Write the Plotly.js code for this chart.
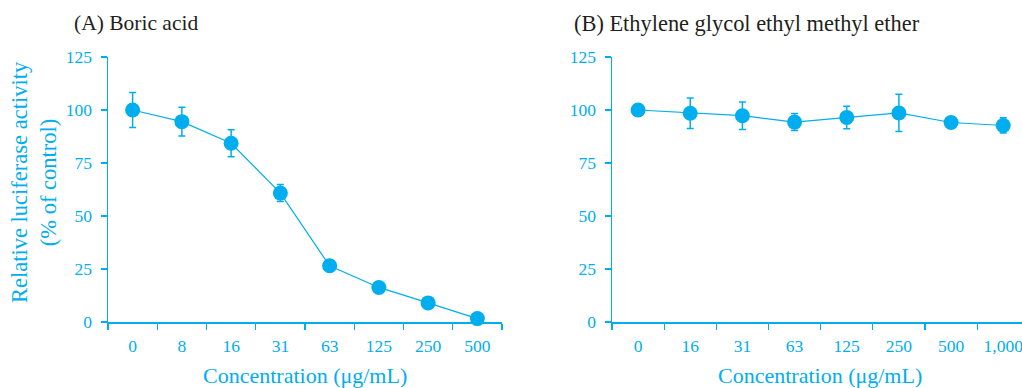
<!DOCTYPE html>
<html>
<head>
<meta charset="utf-8">
<script src="https://cdn.plot.ly/plotly-3.0.1.min.js"></script>
<style>html,body{margin:0;padding:0;background:#fff;}#chart{width:1022px;height:388px;}</style>
</head>
<body>
<div id="chart"></div>
<script>
// Panel A: Boric acid
var concA = ["0", "8", "16", "31", "63", "125", "250", "500"];
var valuesA = [100, 94.5, 84.3, 60.8, 26.5, 16.3, 9.0, 1.6];
var errorsA = [8.3, 6.8, 6.4, 4.0, 0, 0, 0, 0];
// Panel B: Ethylene glycol ethyl methyl ether
var concB = ["0", "16", "31", "63", "125", "250", "500", "1,000"];
var valuesB = [100, 98.5, 97.3, 94.3, 96.5, 98.6, 94.1, 92.7];
var errorsB = [2, 7.2, 6.5, 4.0, 5.3, 8.8, 2, 3.6];
var yTicks = [0, 25, 50, 75, 100, 125];

var cyan = "#00AEEF";
var serif = "Liberation Serif, Times New Roman, serif";

function trace(x, y, e, xa, ya) {
  return {
    type: "scatter", mode: "lines+markers", x: x, y: y,
    xaxis: xa, yaxis: ya, cliponaxis: false,
    line: {color: cyan, width: 1.2},
    marker: {color: cyan, size: 15},
    error_y: {type: "data", array: e, visible: true, color: cyan, thickness: 1.5, width: 3.5},
    showlegend: false, hoverinfo: "skip"
  };
}

function xaxis(domain, range, anchor) {
  return {
    domain: domain, anchor: anchor, type: "category", range: range,
    tickson: "boundaries", ticks: "outside", ticklen: 6, tickwidth: 1.2, tickcolor: cyan,
    showline: true, linecolor: cyan, linewidth: 1.5, showgrid: false, zeroline: false,
    tickfont: {family: serif, size: 17.5, color: cyan}, ticklabelstandoff: 7, fixedrange: true
  };
}
function yaxis(domain, anchor) {
  return {
    domain: domain, anchor: anchor, range: [0, 125], tickvals: yTicks,
    ticktext: yTicks.map(String),
    ticks: "outside", ticklen: 6, tickwidth: 1.2, tickcolor: cyan,
    showline: true, linecolor: cyan, linewidth: 1.5, showgrid: false, zeroline: false,
    tickfont: {family: serif, size: 17.5, color: cyan}, ticklabelstandoff: 5, fixedrange: true
  };
}

var yd = [1 - 322 / 388, 1 - 57 / 388];
var layout = {
  width: 1022, height: 388,
  margin: {l: 0, r: 0, t: 0, b: 0},
  paper_bgcolor: "#fff", plot_bgcolor: "#fff",
  xaxis: xaxis([108 / 1022, 502 / 1022], [-0.5, 7.5], "y"),
  yaxis: yaxis(yd, "x"),
  xaxis2: xaxis([612 / 1022, 1], [-0.5, 7.36], "y2"),
  yaxis2: yaxis(yd, "x2"),
  annotations: [
    {text: "(A) Boric acid", xref: "paper", yref: "paper", x: 72 / 1022, y: 1 - 23 / 388,
     xanchor: "left", yanchor: "middle", showarrow: false, font: {family: serif, size: 21.5, color: "#231f20"}},
    {text: "(B) Ethylene glycol ethyl methyl ether", xref: "paper", yref: "paper", x: 572 / 1022, y: 1 - 23 / 388,
     xanchor: "left", yanchor: "middle", showarrow: false, font: {family: serif, size: 22.4, color: "#231f20"}},
    {text: "Concentration (μg/mL)", xref: "paper", yref: "paper", x: 305 / 1022, y: 1 - 375 / 388,
     xanchor: "center", yanchor: "middle", showarrow: false, font: {family: serif, size: 22, color: cyan}},
    {text: "Concentration (μg/mL)", xref: "paper", yref: "paper", x: 820 / 1022, y: 1 - 375 / 388,
     xanchor: "center", yanchor: "middle", showarrow: false, font: {family: serif, size: 22, color: cyan}},
    {text: "Relative luciferase activity<br>(% of control)", xref: "paper", yref: "paper", x: 34 / 1022, y: 1 - 182 / 388,
     xanchor: "center", yanchor: "middle", textangle: -90, showarrow: false, font: {family: serif, size: 22.5, color: cyan}}
  ]
};

Plotly.newPlot("chart", [
  trace(concA, valuesA, errorsA, "x", "y"),
  trace(concB, valuesB, errorsB, "x2", "y2")
], layout, {displayModeBar: false, staticPlot: true});
</script>
</body>
</html>
